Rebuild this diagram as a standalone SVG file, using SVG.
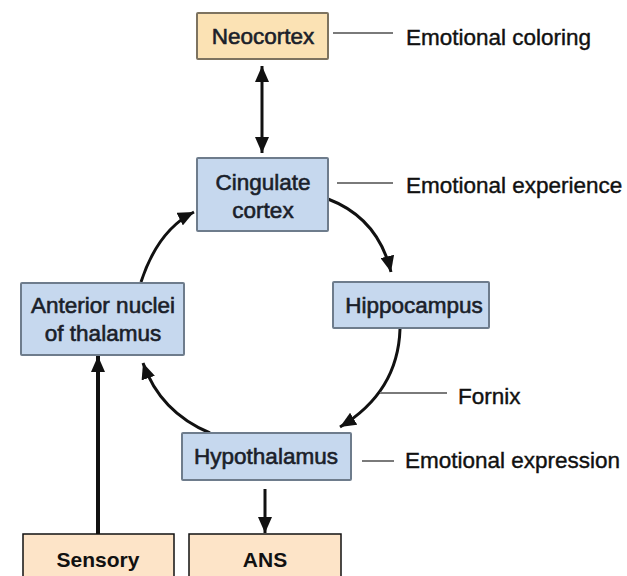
<svg xmlns="http://www.w3.org/2000/svg" width="627" height="576" viewBox="0 0 627 576">
  <defs>
    <style>
      .blue { fill: #c6d8ee; stroke: #6e7c8c; stroke-width: 2; }
      .peach { fill: #fbe2b4; stroke: #7d7360; stroke-width: 2; }
      .bottom { fill: #fde4c8; stroke: #111; stroke-width: 1.5; }
      .nt { font-family: "Liberation Sans", Arial, sans-serif; font-size: 22.5px; fill: #1b1f2a; text-anchor: middle; stroke: #1b1f2a; stroke-width: 0.6; }
      .lbl { font-family: "Liberation Sans", Arial, sans-serif; font-size: 22.5px; fill: #111; stroke: #111; stroke-width: 0.4; }
      .bt { font-family: "Liberation Sans", Arial, sans-serif; font-size: 21px; font-weight: bold; fill: #111; text-anchor: middle; }
      .lead { stroke: #7a7a7a; stroke-width: 2; fill: none; }
      .curve { stroke: #111; stroke-width: 3; fill: none; }
    </style>
    <marker id="ah" markerUnits="userSpaceOnUse" markerWidth="17" markerHeight="14" refX="16" refY="7" orient="auto">
      <path d="M0,0 L16,7 L0,14 z" fill="#111"/>
    </marker>
    <marker id="ahs" markerUnits="userSpaceOnUse" markerWidth="17" markerHeight="14" refX="1" refY="7" orient="auto">
      <path d="M17,0 L1,7 L17,14 z" fill="#111"/>
    </marker>
  </defs>

  <g id="connectors">
    <line x1="262" y1="66" x2="262" y2="153" stroke="#111" stroke-width="3" marker-start="url(#ahs)" marker-end="url(#ah)"/>
    <path class="curve" d="M328,199 Q378,218 391,272" marker-end="url(#ah)"/>
    <path class="curve" d="M400,329 Q398,392 340,427" marker-end="url(#ah)"/>
    <path class="curve" d="M210,433 Q160,412 143,363" marker-end="url(#ah)"/>
    <path class="curve" d="M141,282 Q158,230 194,212" marker-end="url(#ah)"/>
    <line x1="98" y1="534" x2="98" y2="356" stroke="#111" stroke-width="4" marker-end="url(#ah)"/>
    <line x1="265" y1="489" x2="265" y2="533" stroke="#111" stroke-width="3" marker-end="url(#ah)"/>
    <line class="lead" x1="333" y1="33" x2="393" y2="33"/>
    <line class="lead" x1="337" y1="183" x2="393" y2="183"/>
    <line class="lead" x1="380" y1="393" x2="447" y2="393"/>
    <line class="lead" x1="362" y1="461" x2="394" y2="461"/>
  </g>

  <g id="neocortex">
    <rect class="peach" x="197" y="13" width="131" height="46" rx="1"/>
    <text class="nt" x="263" y="44">Neocortex</text>
  </g>
  <g id="cingulate">
    <rect class="blue" x="197" y="158" width="131" height="73" rx="1"/>
    <text class="nt" x="263" y="190">Cingulate</text>
    <text class="nt" x="263" y="218">cortex</text>
  </g>
  <g id="anterior">
    <rect class="blue" x="21" y="283" width="163" height="72" rx="1"/>
    <text class="nt" x="103" y="313">Anterior nuclei</text>
    <text class="nt" x="103" y="341">of thalamus</text>
  </g>
  <g id="hippocampus">
    <rect class="blue" x="333" y="282" width="156" height="46" rx="1"/>
    <text class="nt" x="414" y="313">Hippocampus</text>
  </g>
  <g id="hypothalamus">
    <rect class="blue" x="182" y="433" width="169" height="47" rx="1"/>
    <text class="nt" x="266" y="464">Hypothalamus</text>
  </g>
  <g id="sensory">
    <rect class="bottom" x="23" y="534" width="151" height="50"/>
    <text class="bt" x="98" y="567">Sensory</text>
  </g>
  <g id="ans">
    <rect class="bottom" x="189" y="534" width="152" height="50"/>
    <text class="bt" x="265" y="567">ANS</text>
  </g>

  <g id="labels">
    <text class="lbl" x="406" y="45">Emotional coloring</text>
    <text class="lbl" x="406" y="193">Emotional experience</text>
    <text class="lbl" x="458" y="404">Fornix</text>
    <text class="lbl" x="405" y="468">Emotional expression</text>
  </g>
</svg>
